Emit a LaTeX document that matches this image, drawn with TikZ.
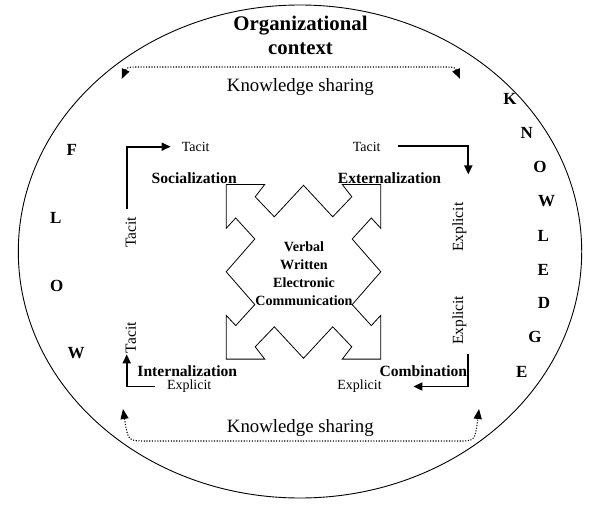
\documentclass[tikz,border=0pt]{standalone}
\usepackage{fontspec}
\setmainfont{Liberation Serif}
\usetikzlibrary{arrows.meta}

\begin{document}
\begin{tikzpicture}[x=1pt,y=-1pt,
    stage/.style={font=\fontsize{15.6}{18}\selectfont\bfseries,inner sep=0pt},
    kind/.style={font=\fontsize{14}{16}\selectfont,inner sep=0pt},
    sidekind/.style={font=\fontsize{15.5}{18}\selectfont,rotate=90,inner sep=0pt},
    letter/.style={font=\fontsize{17}{20}\selectfont\bfseries,inner sep=0pt},
    share/.style={dash pattern=on 1.1pt off 1.6pt,line width=1.1pt,{Triangle[length=10pt,width=8pt]}-{Triangle[length=10pt,width=8pt]}},
    flow/.style={line width=1.7pt,-{Triangle[length=9pt,width=8pt]}}]
    \useasboundingbox (0,0) rectangle (599,505);
    % context
    \draw[line width=0.9pt] (300,251.5) ellipse [x radius=281.7, y radius=246.5];
    \node[font=\fontsize{20.8}{23.7}\selectfont\bfseries,align=center,inner sep=0pt] (org) at (300.5,35.3) {Organizational\\context};
    % knowledge sharing
    \node[font=\fontsize{18.8}{22}\selectfont,inner sep=0pt] (ksT) at (300.3,87.3) {Knowledge sharing};
    \node[font=\fontsize{18.8}{22}\selectfont,inner sep=0pt] (ksB) at (300.3,427.7) {Knowledge sharing};
    \coordinate (ksTL) at (121.7,79);
    \coordinate (ksTR) at (460,79);
    \coordinate (ksBL) at (123,409);
    \coordinate (ksBR) at (479,409);
    \draw[share] (ksTL) .. controls (127,67) .. (145,67) -- (438,67) .. controls (455,67) .. (ksTR);
    \draw[share] (ksBL) .. controls (128,441) .. (146,441) -- (458,441) .. controls (475,441) .. (ksBR);
    % FLOW
    \node[letter] (fF) at (71.7,150) {F};
    \node[letter] (fL) at (55.7,218.3) {L};
    \node[letter] (fO) at (56.7,285.7) {O};
    \node[letter] (fW) at (76,353.3) {W};
    % KNOWLEDGE
    \node[letter] (kK) at (510,99.3) {K};
    \node[letter] (kN) at (526.7,132.7) {N};
    \node[letter] (kO) at (540,167.3) {O};
    \node[letter] (kW) at (546.7,200.7) {W};
    \node[letter] (kL) at (543.3,236) {L};
    \node[letter] (kE) at (543.3,270) {E};
    \node[letter] (kD) at (544,302.7) {D};
    \node[letter] (kG) at (535,336.7) {G};
    \node[letter] (kE2) at (521.7,371.7) {E};
    % communication
    \draw[line width=0.8pt,shift={(303.5,271.8)}]
      (-77.3,-87.3) -- (-38.8,-87.3) -- (-48.3,-75) -- (-29.2,-55) -- (0,-86.5) -- (29.2,-55) -- (48.3,-75) -- (38.8,-87.3)
      -- (77.3,-87.3) -- (77.3,-43.5) -- (67.8,-53.8) -- (48.7,-32.8) -- (77.3,0) -- (48.7,32.8) -- (67.8,53.8) -- (77.3,43.5)
      -- (77.3,87.3) -- (38.8,87.3) -- (48.3,75) -- (29.2,55) -- (0,86.5) -- (-29.2,55) -- (-48.3,75) -- (-38.8,87.3)
      -- (-77.3,87.3) -- (-77.3,43.5) -- (-67.8,53.8) -- (-48.7,32.8) -- (-77.3,0) -- (-48.7,-32.8) -- (-67.8,-53.8) -- (-77.3,-43.5) -- cycle;
    \node[font=\fontsize{14.1}{18}\selectfont\bfseries,align=center,inner sep=0pt] (media) at (304,273.8) {Verbal\\Written\\Electronic\\Communication};
    % SECI
    \node[stage] (soc) at (194.2,178.3) {Socialization};
    \node[stage] (ext) at (389.5,177.7) {Externalization};
    \node[stage] (int) at (187.3,371) {Internalization};
    \node[stage] (comb) at (423.3,371) {Combination};
    \node[kind] (tacitST) at (195.7,146.7) {Tacit};
    \node[sidekind] (tacitSL) at (130.7,232.5) {Tacit};
    \node[kind] (tacitET) at (366.7,146.7) {Tacit};
    \node[sidekind] (explEU) at (459.3,227.2) {Explicit};
    \node[sidekind] (explEL) at (459.3,320.3) {Explicit};
    \node[kind] (explCB) at (359.5,386.5) {Explicit};
    \node[kind] (explIB) at (189.2,386.5) {Explicit};
    \node[sidekind] (tacitIL) at (130.7,337.7) {Tacit};
    \draw[flow] ([xshift=-4pt,yshift=8pt]tacitSL.east) |- ([xshift=-11pt]tacitST.west);
    \draw[flow] ([xshift=17pt,yshift=1pt]tacitET.east) -| ([xshift=9pt,yshift=28pt]explEU.east);
    \draw[flow] ([xshift=9pt,yshift=-8.5pt]explEL.west) |- ([xshift=31.5pt]explCB.east);
    \draw[flow] ([xshift=-12pt]explIB.west) -| ([xshift=-4pt,yshift=-1pt]tacitIL.west);
\end{tikzpicture}
\end{document}
